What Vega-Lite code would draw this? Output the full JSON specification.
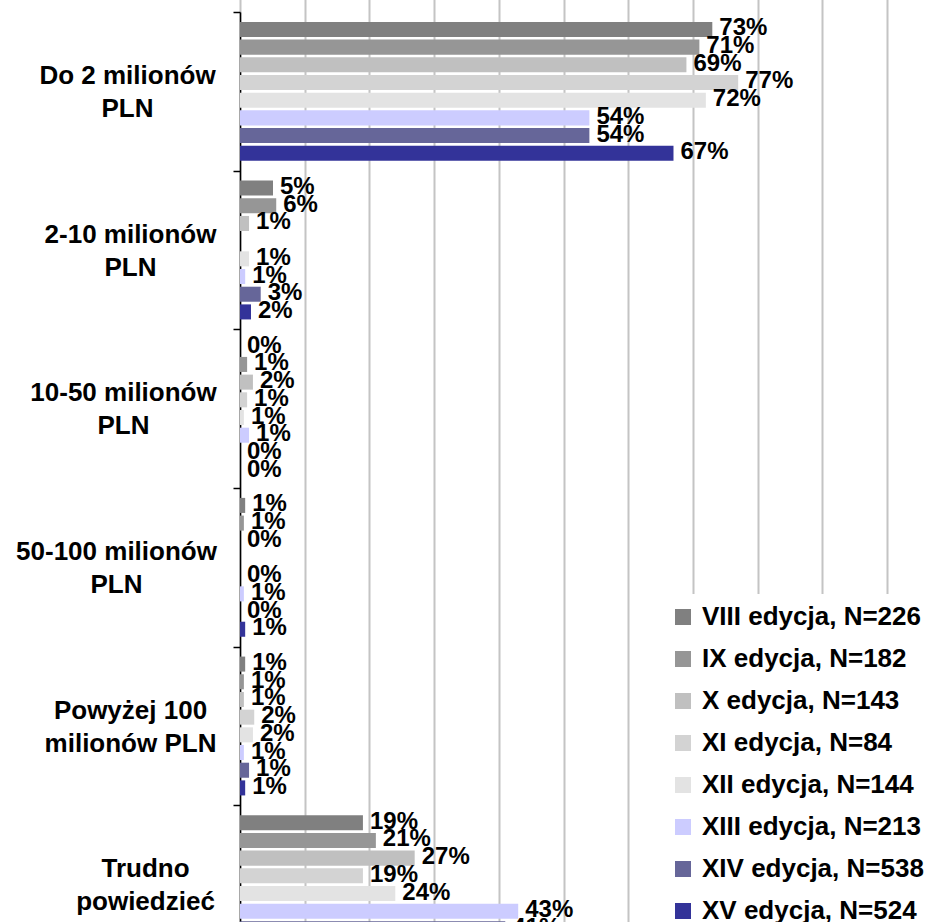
{
  "$schema": "https://vega.github.io/schema/vega-lite/v6.json",
  "autosize": {"type": "none"},
  "padding": {"left": 240, "top": 12, "right": 39, "bottom": 0},
  "width": 647,
  "height": 910,
  "background": "white",
  "config": {"font": "Liberation Sans", "view": {"stroke": null}},
  "data": {
    "values": [
      {"kategoria": "Do 2 milionów|PLN", "edycja": "VIII edycja, N=226", "udzial": 0.73},
      {"kategoria": "Do 2 milionów|PLN", "edycja": "IX edycja, N=182", "udzial": 0.71},
      {"kategoria": "Do 2 milionów|PLN", "edycja": "X edycja, N=143", "udzial": 0.69},
      {"kategoria": "Do 2 milionów|PLN", "edycja": "XI edycja, N=84", "udzial": 0.77},
      {"kategoria": "Do 2 milionów|PLN", "edycja": "XII edycja, N=144", "udzial": 0.72},
      {"kategoria": "Do 2 milionów|PLN", "edycja": "XIII edycja, N=213", "udzial": 0.54},
      {"kategoria": "Do 2 milionów|PLN", "edycja": "XIV edycja, N=538", "udzial": 0.54},
      {"kategoria": "Do 2 milionów|PLN", "edycja": "XV edycja, N=524", "udzial": 0.67},
      {"kategoria": "2-10 milionów|PLN", "edycja": "VIII edycja, N=226", "udzial": 0.051},
      {"kategoria": "2-10 milionów|PLN", "edycja": "IX edycja, N=182", "udzial": 0.056},
      {"kategoria": "2-10 milionów|PLN", "edycja": "X edycja, N=143", "udzial": 0.014},
      {"kategoria": "2-10 milionów|PLN", "edycja": "XII edycja, N=144", "udzial": 0.014},
      {"kategoria": "2-10 milionów|PLN", "edycja": "XIII edycja, N=213", "udzial": 0.008},
      {"kategoria": "2-10 milionów|PLN", "edycja": "XIV edycja, N=538", "udzial": 0.032},
      {"kategoria": "2-10 milionów|PLN", "edycja": "XV edycja, N=524", "udzial": 0.017},
      {"kategoria": "10-50 milionów|PLN", "edycja": "VIII edycja, N=226", "udzial": 0},
      {"kategoria": "10-50 milionów|PLN", "edycja": "IX edycja, N=182", "udzial": 0.011},
      {"kategoria": "10-50 milionów|PLN", "edycja": "X edycja, N=143", "udzial": 0.02},
      {"kategoria": "10-50 milionów|PLN", "edycja": "XI edycja, N=84", "udzial": 0.011},
      {"kategoria": "10-50 milionów|PLN", "edycja": "XII edycja, N=144", "udzial": 0.006},
      {"kategoria": "10-50 milionów|PLN", "edycja": "XIII edycja, N=213", "udzial": 0.014},
      {"kategoria": "10-50 milionów|PLN", "edycja": "XIV edycja, N=538", "udzial": 0},
      {"kategoria": "10-50 milionów|PLN", "edycja": "XV edycja, N=524", "udzial": 0},
      {"kategoria": "50-100 milionów|PLN", "edycja": "VIII edycja, N=226", "udzial": 0.008},
      {"kategoria": "50-100 milionów|PLN", "edycja": "IX edycja, N=182", "udzial": 0.006},
      {"kategoria": "50-100 milionów|PLN", "edycja": "X edycja, N=143", "udzial": 0},
      {"kategoria": "50-100 milionów|PLN", "edycja": "XII edycja, N=144", "udzial": 0},
      {"kategoria": "50-100 milionów|PLN", "edycja": "XIII edycja, N=213", "udzial": 0.006},
      {"kategoria": "50-100 milionów|PLN", "edycja": "XIV edycja, N=538", "udzial": 0},
      {"kategoria": "50-100 milionów|PLN", "edycja": "XV edycja, N=524", "udzial": 0.008},
      {"kategoria": "Powyżej 100|milionów PLN", "edycja": "VIII edycja, N=226", "udzial": 0.008},
      {"kategoria": "Powyżej 100|milionów PLN", "edycja": "IX edycja, N=182", "udzial": 0.006},
      {"kategoria": "Powyżej 100|milionów PLN", "edycja": "X edycja, N=143", "udzial": 0.006},
      {"kategoria": "Powyżej 100|milionów PLN", "edycja": "XI edycja, N=84", "udzial": 0.022},
      {"kategoria": "Powyżej 100|milionów PLN", "edycja": "XII edycja, N=144", "udzial": 0.02},
      {"kategoria": "Powyżej 100|milionów PLN", "edycja": "XIII edycja, N=213", "udzial": 0.006},
      {"kategoria": "Powyżej 100|milionów PLN", "edycja": "XIV edycja, N=538", "udzial": 0.014},
      {"kategoria": "Powyżej 100|milionów PLN", "edycja": "XV edycja, N=524", "udzial": 0.008},
      {"kategoria": "Trudno|powiedzieć", "edycja": "VIII edycja, N=226", "udzial": 0.19},
      {"kategoria": "Trudno|powiedzieć", "edycja": "IX edycja, N=182", "udzial": 0.21},
      {"kategoria": "Trudno|powiedzieć", "edycja": "X edycja, N=143", "udzial": 0.27},
      {"kategoria": "Trudno|powiedzieć", "edycja": "XI edycja, N=84", "udzial": 0.19},
      {"kategoria": "Trudno|powiedzieć", "edycja": "XII edycja, N=144", "udzial": 0.24},
      {"kategoria": "Trudno|powiedzieć", "edycja": "XIII edycja, N=213", "udzial": 0.43},
      {"kategoria": "Trudno|powiedzieć", "edycja": "XIV edycja, N=538", "udzial": 0.41},
      {"kategoria": "Trudno|powiedzieć", "edycja": "XV edycja, N=524", "udzial": 0.3}
    ]
  },
  "encoding": {
    "y": {
      "field": "kategoria",
      "type": "nominal",
      "sort": ["Do 2 milionów|PLN", "2-10 milionów|PLN", "10-50 milionów|PLN", "50-100 milionów|PLN", "Powyżej 100|milionów PLN", "Trudno|powiedzieć"],
      "scale": {"range": [0, 952], "paddingInner": 0, "paddingOuter": 0},
      "axis": {
        "title": null,
        "labelExpr": "split(datum.label, '|')",
        "labelFont": "Liberation Sans",
        "labelFontSize": 26,
        "labelFontWeight": "bold",
        "labelColor": "#000000",
        "labelAlign": "center",
        "labelBaseline": "middle",
        "labelOffset": -16,
        "labelPadding": {
          "condition": [
            {"test": "datum.value === 'Trudno|powiedzieć'", "value": 88},
            {"test": "datum.value === '50-100 milionów|PLN'", "value": 117},
            {"test": "datum.value === '10-50 milionów|PLN'", "value": 110},
            {"test": "datum.value === '2-10 milionów|PLN' || datum.value === 'Powyżej 100|milionów PLN'", "value": 103}
          ],
          "value": 106
        },
        "labelLineHeight": 33,
        "labelLimit": 0,
        "tickBand": "extent",
        "tickSize": 7,
        "tickColor": "#000000",
        "tickWidth": 1.5,
        "domainColor": "#000000",
        "domainWidth": 1.5,
        "grid": false
      }
    },
    "yOffset": {
      "field": "edycja",
      "type": "nominal",
      "sort": ["VIII edycja, N=226", "IX edycja, N=182", "X edycja, N=143", "XI edycja, N=84", "XII edycja, N=144", "XIII edycja, N=213", "XIV edycja, N=538", "XV edycja, N=524"],
      "scale": {
        "domain": ["VIII edycja, N=226", "IX edycja, N=182", "X edycja, N=143", "XI edycja, N=84", "XII edycja, N=144", "XIII edycja, N=213", "XIV edycja, N=538", "XV edycja, N=524"],
        "paddingInner": 0.15,
        "paddingOuter": 0.56
      }
    }
  },
  "layer": [
    {
      "mark": {"type": "bar"},
      "encoding": {
        "x": {
          "field": "udzial",
          "type": "quantitative",
          "scale": {"domain": [0, 1]},
          "axis": {
            "values": [0, 0.1, 0.2, 0.3, 0.4, 0.5, 0.6, 0.7, 0.8, 0.9, 1],
            "grid": true,
            "gridColor": "#c4c4c4",
            "gridWidth": 2,
            "labels": false,
            "ticks": false,
            "domain": false,
            "title": null
          }
        },
        "color": {
          "field": "edycja",
          "type": "nominal",
          "scale": {
            "domain": ["VIII edycja, N=226", "IX edycja, N=182", "X edycja, N=143", "XI edycja, N=84", "XII edycja, N=144", "XIII edycja, N=213", "XIV edycja, N=538", "XV edycja, N=524"],
            "range": ["#808080", "#969696", "#c0c0c0", "#d3d3d3", "#e3e3e3", "#ccccff", "#666699", "#333399"]
          },
          "legend": {
            "orient": "none",
            "legendX": 420,
            "legendY": 582,
            "title": null,
            "fillColor": "#ffffff",
            "padding": 10,
            "direction": "vertical",
            "symbolType": "square",
            "symbolSize": 256,
            "symbolStrokeWidth": 0,
            "symbolOpacity": 1,
            "labelFont": "Liberation Sans",
            "labelFontSize": 26,
            "labelFontWeight": "bold",
            "labelColor": "#000000",
            "labelOffset": 6,
            "labelLimit": 0,
            "rowPadding": 16
          }
        }
      }
    },
    {
      "mark": {"type": "text", "align": "left", "baseline": "middle", "dx": 7, "dy": -1, "fontSize": 24, "fontWeight": "bold", "color": "#000000", "font": "Liberation Sans"},
      "encoding": {
        "x": {"field": "udzial", "type": "quantitative"},
        "text": {"field": "udzial", "type": "quantitative", "format": ".0%"}
      }
    }
  ]
}
